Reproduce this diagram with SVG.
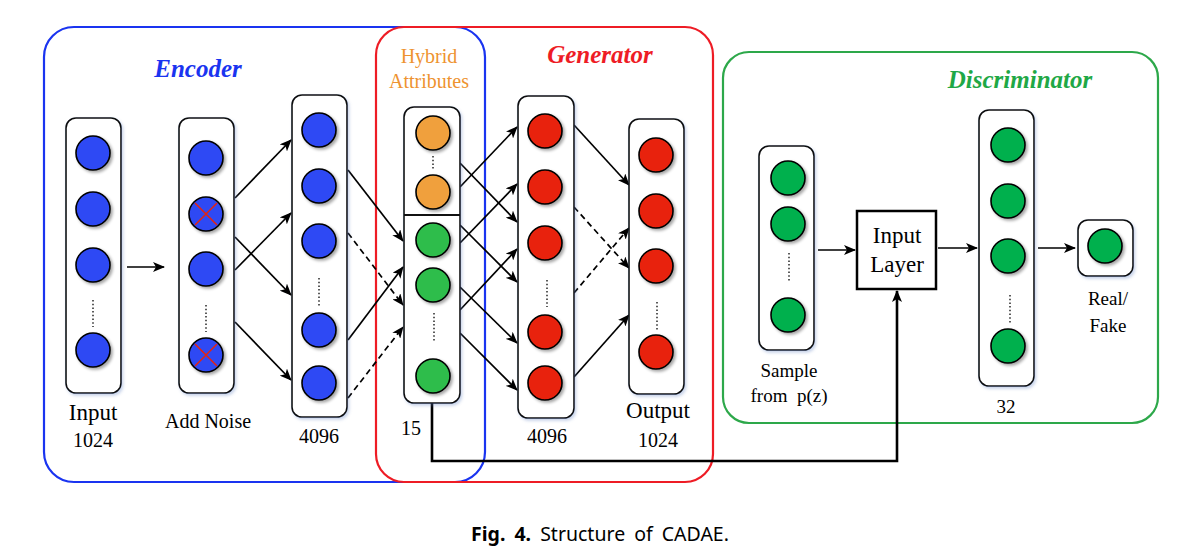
<svg xmlns="http://www.w3.org/2000/svg" width="1189" height="550" viewBox="0 0 1189 550" font-family="'Liberation Serif', 'Times New Roman', serif">
<defs>
<marker id="ah" markerUnits="userSpaceOnUse" markerWidth="12" markerHeight="10" refX="11" refY="5" orient="auto">
<path d="M0,0 L12,5 L0,10 L3,5 Z" fill="#000"/>
</marker>
<filter id="sh" x="-30%" y="-30%" width="170%" height="170%">
<feDropShadow dx="2" dy="2" stdDeviation="1.5" flood-color="#000" flood-opacity="0.35"/>
</filter>
<filter id="csh" x="-20%" y="-20%" width="150%" height="150%">
<feDropShadow dx="1.5" dy="2" stdDeviation="1.5" flood-color="#6080c0" flood-opacity="0.35"/>
</filter>
</defs>
<style>
text{fill:#000}
.col{fill:#fff;stroke:#111;stroke-width:1.6}
.n{stroke:#000;stroke-width:1.6}
.b{fill:#2F48F4}
.r{fill:#E8230C}
.o{fill:#F0A03C}
.g{fill:#2EBD4B}
.dg{fill:#06B04E}
.dots{stroke:#333;stroke-width:1.6;stroke-dasharray:1.5 2.2}
.x{stroke:#E8230C;stroke-width:1.5}
.c{stroke:#000;stroke-width:1.7;fill:none;marker-end:url(#ah)}
.d{stroke-dasharray:6 4}
.lbl{font-family:"Liberation Serif","Times New Roman",serif;font-size:20px;text-anchor:middle}
.sm{font-size:19px}
.big{font-family:"Liberation Serif","Times New Roman",serif;font-size:23px;text-anchor:middle}
.title{font-family:"Liberation Serif","Times New Roman",serif;font-size:25px;font-weight:bold;font-style:italic;text-anchor:middle}
</style>

<g id="containers" fill="none" stroke-width="2.2">
<rect id="encoder-box" x="44" y="27" width="441" height="455" rx="30" stroke="#1A34F0"/>
<rect id="generator-box" x="376" y="27" width="337" height="455" rx="28" stroke="#EE1C25"/>
<rect id="discriminator-box" x="723" y="52" width="435" height="371" rx="26" stroke="#2DA84A"/>
</g>
<text class="title" x="198" y="77" style="fill:#1A34F0">Encoder</text>
<text class="title" x="600" y="63" style="fill:#EE1C25">Generator</text>
<text class="title" x="1020" y="88" style="fill:#1FA846">Discriminator</text>
<text class="lbl" x="429" y="63" style="fill:#EE9330">Hybrid</text>
<text class="lbl" x="429" y="88" style="fill:#EE9330">Attributes</text>

<g id="connectors">
<line class="c" x1="127" y1="267" x2="164" y2="267"/>
<line class="c" x1="235" y1="198" x2="291" y2="140"/>
<line class="c" x1="235" y1="237" x2="291" y2="295"/>
<line class="c" x1="235" y1="270" x2="291" y2="213"/>
<line class="c" x1="235" y1="322" x2="291" y2="380"/>
<line class="c" x1="348" y1="170" x2="403" y2="241"/>
<line class="c d" x1="348" y1="233" x2="403" y2="305"/>
<line class="c" x1="348" y1="340" x2="403" y2="267"/>
<line class="c d" x1="348" y1="398" x2="403" y2="327"/>
<line class="c" x1="460" y1="163" x2="517" y2="222"/>
<line class="c" x1="460" y1="187" x2="517" y2="127"/>
<line class="c" x1="460" y1="225" x2="517" y2="282"/>
<line class="c" x1="460" y1="243" x2="517" y2="184"/>
<line class="c" x1="460" y1="287" x2="517" y2="343"/>
<line class="c" x1="460" y1="310" x2="517" y2="249"/>
<line class="c" x1="460" y1="333" x2="517" y2="390"/>
<line class="c" x1="574" y1="125" x2="629" y2="185"/>
<line class="c d" x1="574" y1="207" x2="629" y2="268"/>
<line class="c d" x1="574" y1="293" x2="629" y2="228"/>
<line class="c" x1="574" y1="377" x2="629" y2="315"/>
<line class="c" x1="818" y1="250" x2="855" y2="250"/>
<line class="c" x1="938" y1="248" x2="977" y2="248"/>
<line class="c" x1="1038" y1="248" x2="1075" y2="248"/>
<polyline class="c" style="stroke-width:2.6" points="432,403 432,461 897,461 897,291"/>
</g>

<g id="input-layer-col">
<rect class="col" x="66" y="118" width="55" height="275" rx="10" filter="url(#csh)"/>
<circle class="n b" cx="93" cy="153" r="17" filter="url(#sh)"/>
<circle class="n b" cx="93" cy="209" r="17" filter="url(#sh)"/>
<circle class="n b" cx="93" cy="265" r="17" filter="url(#sh)"/>
<line class="dots" x1="93" y1="300" x2="93" y2="327"/>
<circle class="n b" cx="93" cy="350" r="17" filter="url(#sh)"/>
<text class="big" x="93" y="420">Input</text>
<text class="lbl" x="93" y="447">1024</text>
</g>

<g id="add-noise-col">
<rect class="col" x="179" y="118" width="55" height="275" rx="10" filter="url(#csh)"/>
<circle class="n b" cx="206" cy="158" r="17" filter="url(#sh)"/>
<circle class="n b" cx="206" cy="214" r="17" filter="url(#sh)"/>
<path class="x" d="M195,203 L217,225 M217,203 L195,225"/>
<circle class="n b" cx="206" cy="269" r="17" filter="url(#sh)"/>
<line class="dots" x1="206" y1="305" x2="206" y2="332"/>
<circle class="n b" cx="206" cy="355" r="17" filter="url(#sh)"/>
<path class="x" d="M195,344 L217,366 M217,344 L195,366"/>
<text class="lbl" x="208" y="428">Add Noise</text>
</g>

<g id="encoder-4096-col">
<rect class="col" x="292" y="95" width="55" height="322" rx="10" filter="url(#csh)"/>
<circle class="n b" cx="319" cy="130" r="17" filter="url(#sh)"/>
<circle class="n b" cx="319" cy="186" r="17" filter="url(#sh)"/>
<circle class="n b" cx="319" cy="241" r="17" filter="url(#sh)"/>
<line class="dots" x1="319" y1="278" x2="319" y2="307"/>
<circle class="n b" cx="319" cy="330" r="17" filter="url(#sh)"/>
<circle class="n b" cx="319" cy="383" r="17" filter="url(#sh)"/>
<text class="lbl" x="319" y="443">4096</text>
</g>

<g id="hybrid-col">
<rect class="col" x="404" y="107" width="56" height="296" rx="10" filter="url(#csh)"/>
<line x1="404" y1="215" x2="460" y2="215" stroke="#111" stroke-width="1.8"/>
<circle class="n o" cx="433" cy="133" r="17" filter="url(#sh)"/>
<line class="dots" x1="433" y1="156" x2="433" y2="169"/>
<circle class="n o" cx="433" cy="192" r="17" filter="url(#sh)"/>
<circle class="n g" cx="433" cy="240" r="17" filter="url(#sh)"/>
<circle class="n g" cx="433" cy="285" r="17" filter="url(#sh)"/>
<line class="dots" x1="434" y1="313" x2="434" y2="342"/>
<circle class="n g" cx="433" cy="376" r="17" filter="url(#sh)"/>
<text class="lbl" x="411" y="435">15</text>
</g>

<g id="generator-4096-col">
<rect class="col" x="518" y="96" width="56" height="322" rx="10" filter="url(#csh)"/>
<circle class="n r" cx="545" cy="131" r="17" filter="url(#sh)"/>
<circle class="n r" cx="545" cy="187" r="17" filter="url(#sh)"/>
<circle class="n r" cx="545" cy="243" r="17" filter="url(#sh)"/>
<line class="dots" x1="547" y1="280" x2="547" y2="307"/>
<circle class="n r" cx="545" cy="332" r="17" filter="url(#sh)"/>
<circle class="n r" cx="545" cy="383" r="17" filter="url(#sh)"/>
<text class="lbl" x="547" y="443">4096</text>
</g>

<g id="output-col">
<rect class="col" x="629" y="119" width="55" height="275" rx="10" filter="url(#csh)"/>
<circle class="n r" cx="656" cy="155" r="17" filter="url(#sh)"/>
<circle class="n r" cx="656" cy="211" r="17" filter="url(#sh)"/>
<circle class="n r" cx="656" cy="266" r="17" filter="url(#sh)"/>
<line class="dots" x1="657" y1="302" x2="657" y2="330"/>
<circle class="n r" cx="656" cy="352" r="17" filter="url(#sh)"/>
<text class="big" x="658" y="418">Output</text>
<text class="lbl" x="658" y="447">1024</text>
</g>

<g id="sample-col">
<rect class="col" x="759" y="146" width="55" height="204" rx="10" filter="url(#csh)"/>
<circle class="n dg" cx="788" cy="178" r="17" filter="url(#sh)"/>
<circle class="n dg" cx="788" cy="224" r="17" filter="url(#sh)"/>
<line class="dots" x1="789" y1="253" x2="789" y2="281"/>
<circle class="n dg" cx="788" cy="315" r="17" filter="url(#sh)"/>
<text class="lbl sm" x="789" y="377">Sample</text>
<text class="lbl sm" x="789" y="402" xml:space="preserve">from  p(z)</text>
</g>

<g id="input-layer-box">
<rect x="857" y="211" width="79" height="78" fill="#fff" stroke="#000" stroke-width="2.5"/>
<text class="big" x="897" y="243">Input</text>
<text class="big" x="897" y="272">Layer</text>
</g>

<g id="disc-32-col">
<rect class="col" x="979" y="110" width="55" height="276" rx="10" filter="url(#csh)"/>
<circle class="n dg" cx="1008" cy="145" r="17" filter="url(#sh)"/>
<circle class="n dg" cx="1008" cy="201" r="17" filter="url(#sh)"/>
<circle class="n dg" cx="1008" cy="256" r="17" filter="url(#sh)"/>
<line class="dots" x1="1010" y1="295" x2="1010" y2="323"/>
<circle class="n dg" cx="1008" cy="346" r="17" filter="url(#sh)"/>
<text class="lbl sm" x="1006" y="413">32</text>
</g>

<g id="real-fake">
<rect class="col" x="1078" y="220" width="55" height="56" rx="10" filter="url(#csh)"/>
<circle class="n dg" cx="1105" cy="246" r="17" filter="url(#sh)"/>
<text class="lbl sm" x="1108" y="305">Real/</text>
<text class="lbl sm" x="1108" y="332">Fake</text>
</g>

<text x="600" y="541" font-family="Noto Sans, Open Sans, sans-serif" style="font-size:19.5px;text-anchor:middle;word-spacing:4px"><tspan font-weight="bold">Fig. 4.</tspan> Structure of CADAE.</text>
</svg>
